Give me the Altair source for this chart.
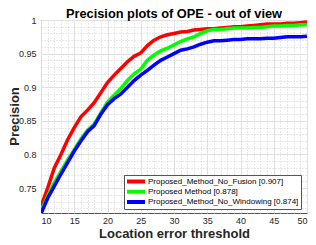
import altair as alt
import pandas as pd

thresholds = list(range(10, 51))

no_fusion = [0.723, 0.750, 0.780, 0.800, 0.822, 0.840, 0.856, 0.866, 0.877, 0.892,
             0.907, 0.918, 0.928, 0.938, 0.946, 0.951, 0.962, 0.970, 0.975, 0.978,
             0.980, 0.982, 0.983, 0.985, 0.986, 0.987, 0.987, 0.988, 0.989, 0.990,
             0.990, 0.991, 0.992, 0.993, 0.994, 0.994, 0.994, 0.995, 0.995, 0.996, 0.997]
proposed = [0.716, 0.738, 0.758, 0.775, 0.792, 0.807, 0.823, 0.836, 0.845, 0.862,
            0.878, 0.888, 0.898, 0.910, 0.920, 0.927, 0.940, 0.948, 0.954, 0.958,
            0.963, 0.968, 0.972, 0.975, 0.980, 0.984, 0.986, 0.986, 0.987, 0.988,
            0.988, 0.988, 0.989, 0.989, 0.990, 0.991, 0.991, 0.992, 0.992, 0.993, 0.993]
no_windowing = [0.712, 0.735, 0.753, 0.771, 0.788, 0.805, 0.820, 0.834, 0.843, 0.860,
                0.874, 0.883, 0.890, 0.900, 0.910, 0.918, 0.925, 0.933, 0.940, 0.945,
                0.950, 0.955, 0.957, 0.960, 0.964, 0.967, 0.969, 0.969, 0.970, 0.971,
                0.971, 0.972, 0.972, 0.972, 0.973, 0.973, 0.974, 0.975, 0.975, 0.975, 0.976]

series_names = ["Proposed_Method_No_Fusion [0.907]",
                "Proposed Method [0.878]",
                "Proposed_Method_No_Windowing [0.874]"]
series_colors = ["#ff0000", "#00ff00", "#0000ff"]

x_ticks = list(range(10, 51))
y_ticks = [round(0.72 + 0.01 * i, 2) for i in range(29)]

rows = []
for name, vals in zip(series_names, [no_fusion, proposed, no_windowing]):
    for t, v in zip(thresholds, vals):
        rows.append({"threshold": t, "precision": v, "method": name})
df = pd.DataFrame(rows)

x_major = "datum.value % 5 === 0"
y_major = "abs(datum.value * 20 - round(datum.value * 20)) < 0.000001"

chart = alt.Chart(df).mark_line(strokeWidth=3.5, clip=True).encode(
    x=alt.X("threshold:Q",
            scale=alt.Scale(domain=[10, 50], nice=False, zero=False),
            axis=alt.Axis(values=x_ticks, title="Location error threshold",
                          labelExpr=f"({x_major}) ? datum.label : ''",
                          grid=True,
                          gridColor={"condition": {"test": x_major, "value": "#e0e0e0"}, "value": "#d0d0d0"},
                          gridDash={"condition": {"test": x_major, "value": []}, "value": [1, 2]},
                          ticks=False, domain=False,
                          labelFont="Liberation Sans", labelFontSize=9, labelColor="#262626",
                          labelPadding=3,
                          titleFont="Liberation Sans", titleFontSize=13, titleFontWeight="bold",
                          titleColor="#262626", titlePadding=2)),
    y=alt.Y("precision:Q",
            scale=alt.Scale(domain=[0.713, 1.0], nice=False, zero=False),
            axis=alt.Axis(values=y_ticks, title="Precision",
                          labelExpr=f"({y_major}) ? format(datum.value, '~g') : ''",
                          grid=True,
                          gridColor={"condition": {"test": y_major, "value": "#e0e0e0"}, "value": "#d0d0d0"},
                          gridDash={"condition": {"test": y_major, "value": []}, "value": [1, 2]},
                          ticks=False, domain=False,
                          labelFont="Liberation Sans", labelFontSize=9, labelColor="#262626",
                          labelPadding=5,
                          titleFont="Liberation Sans", titleFontSize=13, titleFontWeight="bold",
                          titleColor="#262626", titleX=-20, titleY=96)),
    color=alt.Color("method:N",
                    scale=alt.Scale(domain=series_names, range=series_colors),
                    sort=series_names,
                    legend=alt.Legend(title=None, orient="none", legendX=83, legendY=155,
                                      symbolType="M-2,0L2,0", symbolStrokeWidth=4, symbolSize=81,
                                      clipHeight=9,
                                      labelFont="Liberation Sans", labelFontSize=8,
                                      labelColor="#000", fillColor="white", strokeColor="#555",
                                      padding=2, rowPadding=1.3, labelOffset=5.5, symbolOffset=3.5,
                                      labelLimit=300)),
).properties(
    width=266, height=193,
    title=alt.TitleParams("Precision plots of OPE - out of view", font="Liberation Sans",
                          fontSize=12.8, fontWeight="bold", color="#000", anchor="middle",
                          frame="group", baseline="alphabetic", offset=-15),
    autosize=alt.AutoSizeParams(type="none"),
    padding={"left": 33, "top": 12, "right": 1, "bottom": 30},
).configure_view(stroke="#555", strokeWidth=1)

chart.save("out.html", embed_options={"renderer": "svg", "actions": False})
